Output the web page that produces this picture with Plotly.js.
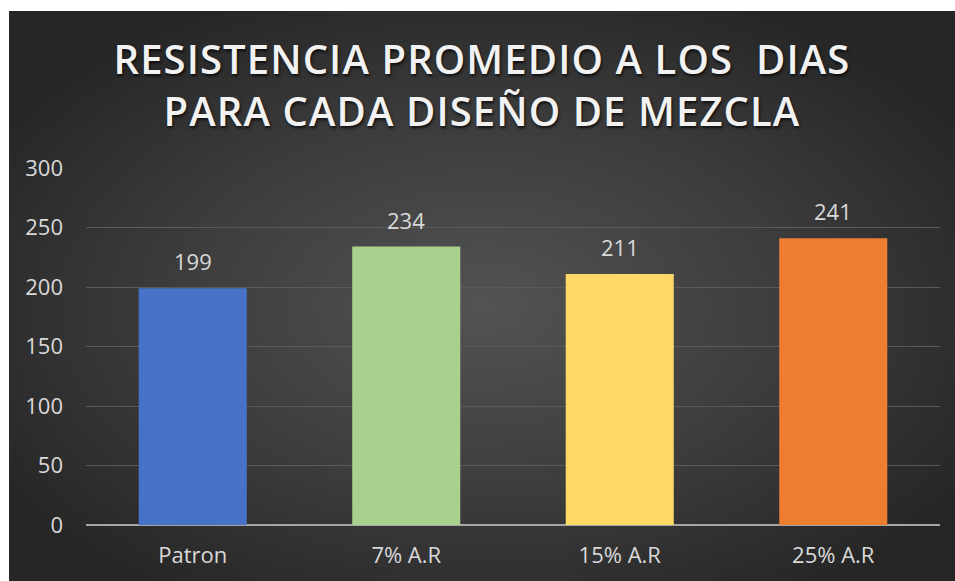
<!DOCTYPE html>
<html>
<head>
<meta charset="utf-8">
<script src="https://cdn.plot.ly/plotly-3.0.1.min.js"></script>
<style>
  html, body { margin: 0; padding: 0; background: #ffffff; width: 955px; height: 581px; overflow: hidden; }
  #chart {
    position: absolute; left: 9px; top: 11px; width: 946px; height: 570px;
    background: radial-gradient(ellipse 60% 60% at 50% 52%, #535353 0%, #3c3c3c 55%, #262626 100%);
  }
  #chart .gtitle { letter-spacing: 1.1px; }
</style>
</head>
<body>
<div id="chart"></div>
<script>
const categories = ["Patron", "7% A.R", "15% A.R", "25% A.R"];
const values = [199, 234, 211, 241];
const barColors = ["#4673c8", "#a9d18e", "#ffd966", "#ed7d31"];
const yTicks = [0, 50, 100, 150, 200, 250, 300];
const titleText = "RESISTENCIA PROMEDIO A LOS  DIAS<br>PARA CADA DISEÑO DE MEZCLA";

const trace = {
  type: "bar",
  x: categories,
  y: values,
  marker: { color: barColors, line: { width: 0 } },
  hoverinfo: "x+y"
};

const annotations = categories.map((c, i) => ({
  x: c, y: values[i], xref: "x", yref: "y",
  text: String(values[i]), showarrow: false,
  yanchor: "bottom", yshift: 10,
  font: { family: "Open Sans", size: 22, color: "#d9d9d9" }
}));

const layout = {
  width: 946, height: 570,
  paper_bgcolor: "rgba(0,0,0,0)",
  plot_bgcolor: "rgba(0,0,0,0)",
  margin: { l: 77, r: 15, t: 157, b: 56 },
  showlegend: false,
  bargap: 0.494,
  title: {
    text: titleText,
    x: 0.5, xanchor: "center",
    y: 0.89, yanchor: "middle", yref: "container",
    font: { family: "Open Sans", size: 40, color: "#f2f2f2", weight: 600,
            shadow: "1px 2px 3px rgba(0,0,0,0.75)" }
  },
  xaxis: {
    type: "category",
    tickfont: { family: "Open Sans", size: 22, color: "#d9d9d9" },
    showgrid: false, zeroline: false, showline: false,
    ticks: "", ticklabelstandoff: 15
  },
  yaxis: {
    range: [0, 300],
    tickvals: yTicks,
    ticktext: yTicks.map(String),
    tickfont: { family: "Open Sans", size: 22, color: "#d9d9d9" },
    showgrid: true, gridcolor: "#5a5a5a", gridwidth: 1,
    zeroline: true, zerolinecolor: "#a6a6a6", zerolinewidth: 2,
    showline: false, ticks: "", ticklabelstandoff: 22
  },
  annotations: annotations
};

Plotly.newPlot("chart", [trace], layout, { displayModeBar: false, staticPlot: true });
</script>
</body>
</html>
